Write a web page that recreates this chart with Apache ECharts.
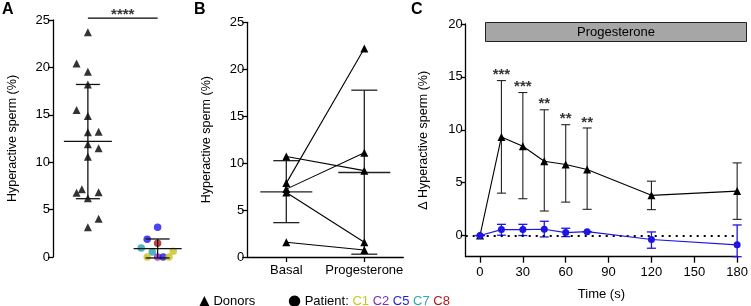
<!DOCTYPE html>
<html>
<head>
<meta charset="utf-8">
<script src="https://cdn.jsdelivr.net/npm/echarts@6/dist/echarts.min.js"></script>
<style>
html, body { margin: 0; padding: 0; background: #fff; }
#main { width: 751px; height: 306px; }
</style>
</head>
<body>
<div id="main"></div>
<script>
// ---- panel A : donors (jittered round x=1) and patient (round x=2)
var donorX = [1, 0.838, 1, 1, 0.838, 1, 1, 1.154, 1, 1.154, 1, 0.838, 0.914, 1.154, 1, 1.154, 1];
var donorY = [23.7, 20.4, 19.55, 18.2, 15.5, 14.87, 13.15, 13.2, 11.9, 11.46, 10.58, 6.78, 7.14, 6.82, 6.19, 4.04, 3.13];
var patientX = [2, 1.851, 2, 1.765, 1.923, 2.224, 1.851, 2, 2.08, 2.162];
var patientY = [3.13, 1.87, 1.45, 0.95, 0.53, 0.6, 0, 0, 0, 0];
var patientId = ['C5', 'C5', 'C8', 'C7', 'C7', 'C1', 'C1', 'C2', 'C5', 'C1'];
// x, mean, mean-SD, mean+SD
var summaryA = [[1, 12.2, 6.15, 18.2], [2, 0.88, -0.1, 1.9]];
var sigA = '****';
var sigAY = 25.2;

// ---- panel B : paired donors
var condB = ['Basal', 'Progesterone'];
var basalB = [10.7, 7.87, 7.23, 6.87, 1.57];
var progB = [9.2, 22.2, 11.1, 1.57, 0.75];
var summaryB = [[0, 6.94, 3.66, 10.26], [1, 9.0, 0.3, 17.77]];

// ---- panel C : time course
var timeC = [0, 15, 30, 45, 60, 75, 120, 180];
var donorC = [0, 9.32, 8.44, 7.03, 6.71, 6.24, 3.8, 4.2];
var donorCLo = [0, 4.01, 3.48, 2.32, 3.16, 2.48, 2.45, 1.53];
var donorCHi = [0, 14.65, 13.52, 11.89, 10.48, 10.17, 5.14, 6.87];
var patientC = [0, 0.56, 0.56, 0.6, 0.28, 0.37, -0.38, -0.88];
var patientCLo = [0, 0.03, 0, -0.13, -0.1, 0.37, -1.2, -2];
var patientCHi = [0, 1.06, 1.06, 1.35, 0.69, 0.37, 0.34, 1.0];
var starsC = ['', '***', '***', '**', '**', '**', '', ''];
var ticksCY = [0, 5, 10, 15, 20];
var ticksCX = [0, 30, 60, 90, 120, 150, 180];

var patientColors = { C1: '#c8c21c', C2: '#9a2ad6', C5: '#1e14e6', C7: '#22a2b4', C8: '#a81414' };
var BLUE = '#1e14e6';
var font = 'Liberation Sans, Arial, Helvetica, sans-serif';

var chartDom = document.getElementById('main');
var myChart = echarts.init(chartDom);
var option;

function zip(xs, ys) { return xs.map(function (x, i) { return [x, ys[i]]; }); }

// draws mean line + SD whiskers, or plain error bars when halfMean is 0
function barsRender(halfMean, halfCap, color, width) {
    return function (params, api) {
        var x = api.value(0);
        var pm = api.coord([x, api.value(1)]);
        var pl = api.coord([x, api.value(2)]);
        var ph = api.coord([x, api.value(3)]);
        var st = { stroke: color, lineWidth: width };
        var ch = [
            { type: 'line', shape: { x1: pl[0], y1: pl[1], x2: ph[0], y2: ph[1] }, style: st },
            { type: 'line', shape: { x1: ph[0] - halfCap, y1: ph[1], x2: ph[0] + halfCap, y2: ph[1] }, style: st },
            { type: 'line', shape: { x1: pl[0] - halfCap, y1: pl[1], x2: pl[0] + halfCap, y2: pl[1] }, style: st }
        ];
        if (halfMean) {
            ch.push({ type: 'line', shape: { x1: pm[0] - halfMean, y1: pm[1], x2: pm[0] + halfMean, y2: pm[1] }, style: st });
        }
        return { type: 'group', children: ch };
    };
}

function axLine() { return { show: true, onZero: false, lineStyle: { color: '#000', width: 1.3 } }; }
function axTick(len, extra) {
    var t = { show: true, inside: false, length: len, lineStyle: { color: '#000', width: 1.3 } };
    for (var k in extra) t[k] = extra[k];
    return t;
}
function axLabel(margin, extra) {
    var l = { show: true, color: '#000', fontSize: 13, fontFamily: font, margin: margin };
    for (var k in extra) l[k] = extra[k];
    return l;
}
function nameStyle() { return { color: '#000', fontSize: 12.5, fontFamily: font }; }

var patientData = patientX.map(function (x, i) {
    return { value: [x, patientY[i]], itemStyle: { color: patientColors[patientId[i]] } };
});

var seriesB = basalB.map(function (b, i) {
    return {
        type: 'line', xAxisIndex: 1, yAxisIndex: 1, data: [b, progB[i]],
        symbol: 'triangle', symbolSize: 8, itemStyle: { color: '#000' },
        lineStyle: { color: '#000', width: 1.1 }, z: 3
    };
});

var errDonorC = timeC.map(function (t, i) { return [t, donorC[i], donorCLo[i], donorCHi[i]]; });
var errPatientC = timeC.map(function (t, i) { return [t, patientC[i], patientCLo[i], patientCHi[i]]; });
var starData = [];
timeC.forEach(function (t, i) { if (starsC[i]) starData.push({ value: [t, donorCHi[i]], star: starsC[i] }); });

option = {
    animation: false,
    backgroundColor: '#fff',
    grid: [
        { left: 53, top: 20, width: 139.5, height: 237 },
        { left: 247.3, top: 22.3, width: 156, height: 234.7 },
        { left: 465.7, top: 24, width: 275.3, height: 232.7 }
    ],
    xAxis: [
        { gridIndex: 0, type: 'value', min: 0.5, max: 2.5, show: false },
        {
            gridIndex: 1, type: 'category', data: condB, boundaryGap: true,
            axisLine: axLine(), axisTick: axTick(5, { alignWithLabel: true }),
            axisLabel: axLabel(7, { interval: 0 })
        },
        {
            gridIndex: 2, type: 'value', min: -10, max: 180,
            axisLine: axLine(),
            axisTick: axTick(6, { customValues: ticksCX }),
            axisLabel: axLabel(9, { customValues: ticksCX }),
            splitLine: { show: false },
            name: 'Time (s)', nameLocation: 'middle', nameGap: 31,
            nameTextStyle: { color: '#000', fontSize: 13, fontFamily: font }
        }
    ],
    yAxis: [
        {
            gridIndex: 0, type: 'value', min: 0, max: 25, interval: 5,
            axisLine: axLine(), axisTick: axTick(5), axisLabel: axLabel(3), splitLine: { show: false },
            name: 'Hyperactive sperm (%)', nameLocation: 'middle', nameGap: 34, nameTextStyle: nameStyle()
        },
        {
            gridIndex: 1, type: 'value', min: 0, max: 25, interval: 5,
            axisLine: axLine(), axisTick: axTick(5), axisLabel: axLabel(3), splitLine: { show: false },
            name: 'Hyperactive sperm (%)', nameLocation: 'middle', nameGap: 34, nameTextStyle: nameStyle()
        },
        {
            gridIndex: 2, type: 'value', min: -2, max: 20,
            axisLine: axLine(),
            axisTick: axTick(5, { customValues: ticksCY }),
            axisLabel: axLabel(3, { customValues: ticksCY }),
            splitLine: { show: false },
            name: '\u0394 Hyperactive sperm (%)', nameLocation: 'middle', nameGap: 36, nameTextStyle: nameStyle()
        }
    ],
    series: [
        // panel A
        {
            type: 'scatter', xAxisIndex: 0, yAxisIndex: 0, data: zip(donorX, donorY),
            symbol: 'triangle', symbolSize: 8, itemStyle: { color: '#000' }, z: 3
        },
        {
            type: 'scatter', xAxisIndex: 0, yAxisIndex: 0, data: patientData,
            symbol: 'circle', symbolSize: 7.5, z: 3
        },
        {
            type: 'custom', xAxisIndex: 0, yAxisIndex: 0, data: summaryA,
            encode: { x: 0, y: [1, 2, 3] }, renderItem: barsRender(24, 12, '#111', 1.3), z: 4
        },
        {
            type: 'line', xAxisIndex: 0, yAxisIndex: 0, data: [[1, sigAY], [2, sigAY]],
            clip: false, symbol: 'none', lineStyle: { color: '#000', width: 1.2 }
        },
        {
            type: 'scatter', xAxisIndex: 0, yAxisIndex: 0, data: [[1.5, sigAY]], clip: false,
            symbolSize: 0,
            label: { show: true, position: 'top', distance: -4, formatter: sigA, fontSize: 15, fontWeight: 'bold', color: '#000', fontFamily: font }
        },
        // panel B
        {
            type: 'custom', xAxisIndex: 1, yAxisIndex: 1, data: summaryB,
            encode: { x: 0, y: [1, 2, 3] }, renderItem: barsRender(26, 13, '#222', 1.3), z: 2
        }
    ].concat(seriesB).concat([
        // panel C
        {
            type: 'custom', xAxisIndex: 2, yAxisIndex: 2, data: errDonorC,
            encode: { x: 0, y: [1, 2, 3] }, renderItem: barsRender(0, 4.5, '#222', 1.1), z: 2
        },
        {
            type: 'line', xAxisIndex: 2, yAxisIndex: 2, data: zip(timeC, donorC),
            symbol: 'triangle', symbolSize: 8, itemStyle: { color: '#000' },
            lineStyle: { color: '#000', width: 1.1 }, z: 3,
            markLine: {
                silent: true, symbol: 'none', label: { show: false },
                lineStyle: { color: '#000', type: [2, 5], width: 2 },
                data: [{ yAxis: 0 }]
            }
        },
        {
            type: 'custom', xAxisIndex: 2, yAxisIndex: 2, data: errPatientC,
            encode: { x: 0, y: [1, 2, 3] }, renderItem: barsRender(0, 4.5, BLUE, 1.3), z: 4
        },
        {
            type: 'line', xAxisIndex: 2, yAxisIndex: 2, data: zip(timeC, patientC),
            symbol: 'circle', symbolSize: 7, itemStyle: { color: BLUE },
            lineStyle: { color: BLUE, width: 1.1 }, z: 5
        },
        {
            type: 'scatter', xAxisIndex: 2, yAxisIndex: 2, data: starData, symbolSize: 0,
            label: {
                show: true, position: 'top', distance: -2, fontSize: 15, fontWeight: 'bold', color: '#000', fontFamily: font,
                formatter: function (p) { return p.data.star; }
            }
        }
    ]),
    graphic: [
        { type: 'text', x: 2, y: 2, style: { text: 'A', fontSize: 16, fontWeight: 'bold', fontFamily: font, fill: '#000' } },
        { type: 'text', x: 194, y: 2, style: { text: 'B', fontSize: 16, fontWeight: 'bold', fontFamily: font, fill: '#000' } },
        { type: 'text', x: 411, y: 2, style: { text: 'C', fontSize: 16, fontWeight: 'bold', fontFamily: font, fill: '#000' } },
        {
            type: 'rect', shape: { x: 485.5, y: 22.5, width: 261, height: 19 },
            style: { fill: '#a6a6a6', stroke: '#222', lineWidth: 1 }, z: 10
        },
        {
            type: 'text', x: 616, y: 32.5, z: 11,
            style: { text: 'Progesterone', align: 'center', verticalAlign: 'middle', fontSize: 13, fontFamily: font, fill: '#000' }
        },
        {
            type: 'text', x: 199, y: 301,
            style: {
                text: '{s|\u25B2} Donors', verticalAlign: 'middle', fontSize: 13, fontFamily: font, fill: '#000',
                rich: { s: { fontSize: 14, fontFamily: 'DejaVu Sans', fill: '#000' } }
            }
        },
        {
            type: 'text', x: 288, y: 301,
            style: {
                text: '{s|\u25CF} Patient: {c1|C1} {c2|C2} {c5|C5} {c7|C7} {c8|C8}',
                verticalAlign: 'middle', fontSize: 13, fontFamily: font, fill: '#000',
                rich: {
                    s: { fontSize: 15, fontFamily: 'DejaVu Sans', fill: '#000' },
                    c1: { fill: '#c8c81e', fontSize: 13, fontFamily: font },
                    c2: { fill: '#7a2ec0', fontSize: 13, fontFamily: font },
                    c5: { fill: '#1e1ee6', fontSize: 13, fontFamily: font },
                    c7: { fill: '#2aa8b8', fontSize: 13, fontFamily: font },
                    c8: { fill: '#b01818', fontSize: 13, fontFamily: font }
                }
            }
        }
    ]
};

option && myChart.setOption(option);
</script>
</body>
</html>
